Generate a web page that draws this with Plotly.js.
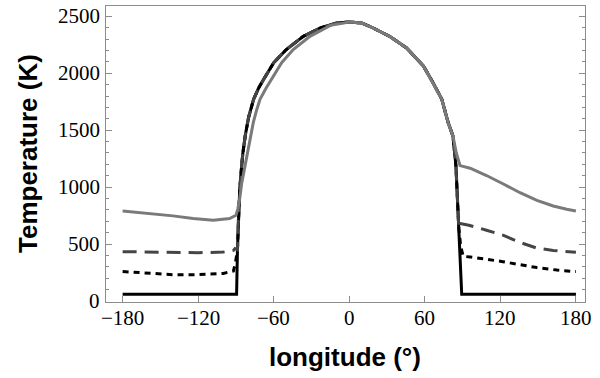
<!DOCTYPE html>
<html>
<head>
<meta charset="utf-8">
<script src="https://cdn.plot.ly/plotly-3.0.1.min.js"></script>
<style>
  html, body { margin: 0; padding: 0; background: #fff; }
  #chart { width: 600px; height: 378px; }
</style>
</head>
<body>
<div id="chart"></div>
<script>
// Longitude (deg) and temperature (K)

// dayside arc shared by the black, dotted and dashed curves
const dayLon = [-88.8, -88, -87, -86, -84.5, -82.5, -80, -76, -72, -68, -60, -50, -36.5, -23, -10, 0, 10, 19, 32, 45.5, 59, 66.5, 73.5, 78.5, 82.3, 84.7, 87];
const dayTemp = [450, 750, 980, 1120, 1300, 1460, 1610, 1771, 1870, 1946, 2092, 2208, 2324, 2397, 2440, 2450, 2440, 2397, 2324, 2222, 2062, 1917, 1771, 1568, 1450, 1189, 640];

// black solid: nightside segments
const nightLonBlackW = [-180, -89.5];
const nightTempBlackW = [60, 60];
const nightLonBlackE = [89.3, 180];
const nightTempBlackE = [60, 60];

// black dotted: nightside segments
const nightLonDotW = [-180, -160, -140, -120, -100, -92, -90.5];
const nightTempDotW = [259, 245, 232, 232, 243, 265, 330];
const nightLonDotE = [88.5, 90.5, 96, 122, 149, 165, 180];
const nightTempDotE = [480, 392, 388, 346, 294, 272, 259];

// dark grey dashed: nightside segments
const nightLonDashW = [-180, -150, -120, -100, -92, -90.8];
const nightTempDashW = [434, 428, 425, 430, 445, 460];
const nightLonDashE = [88, 95, 109, 122, 135.6, 149, 162, 180];
const nightTempDashE = [681, 666, 622, 579, 515, 465, 445, 428];

// grey solid: whole curve
const lonGrey = [-180, -158, -140, -124, -108, -95, -90, -88.5, -87, -85.5, -84, -82, -80.2, -78, -76.2, -73.5, -70.9, -66, -61.6, -53.7, -44.5, -31.2, -15, 0, 10, 19, 32, 45.5, 59, 66.5, 73.5, 78.5, 82.3, 85, 88, 96, 109, 122, 135.6, 149, 162, 172.7, 180];
const tempGrey = [791, 768, 748, 724, 709, 724, 753, 810, 900, 1030, 1120, 1240, 1335, 1460, 1568, 1680, 1771, 1870, 1946, 2092, 2208, 2324, 2420, 2450, 2440, 2397, 2324, 2222, 2062, 1917, 1771, 1568, 1450, 1300, 1189, 1166, 1102, 1030, 951, 884, 835, 806, 791];

// axes
const xTickVals = [-180, -120, -60, 0, 60, 120, 180];
const yTickVals = [0, 500, 1000, 1500, 2000, 2500];
const xGridVals = [-128.7, -73.1, -16.7, 95.3];
const yGridVals = [500, 1000, 1500, 2000];
const xRange = [-193.2, 187.2];
const yRange = [-8, 2590];
const xTitle = 'longitude (°)';
const yTitle = 'Temperature (K)';

function joinCurve(lonW, tW, lonE, tE) {
    return {
        x: lonW.concat(dayLon, lonE),
        y: tW.concat(dayTemp, tE)
    };
}

const black = joinCurve(nightLonBlackW, nightTempBlackW, nightLonBlackE, nightTempBlackE);
const dotted = joinCurve(nightLonDotW, nightTempDotW, nightLonDotE, nightTempDotE);
const dashed = joinCurve(nightLonDashW, nightTempDashW, nightLonDashE, nightTempDashE);

const traces = [
    {
        x: black.x, y: black.y, mode: 'lines',
        line: { color: '#000000', width: 3 }
    },
    {
        x: dotted.x, y: dotted.y, mode: 'lines',
        line: { color: '#000000', width: 3, dash: '6px,5px' }
    },
    {
        x: dashed.x, y: dashed.y, mode: 'lines',
        line: { color: '#454545', width: 3, dash: '14px,8px' }
    },
    {
        x: lonGrey, y: tempGrey, mode: 'lines',
        line: { color: '#7a7a7a', width: 3 }
    }
];

const frameColor = '#8c8c8c';
const serifFont = { family: 'Liberation Serif', size: 21, color: '#000' };
const titleFont = { family: 'Liberation Sans', size: 26, color: '#000', weight: 'bold' };

// tickfont was not taking effect on the axis labels, so the labels are
// written as annotations sitting on the axis values instead
function fmtTick(v) {
    return v < 0 ? '\u2212' + Math.abs(v) : String(v);
}

const xLabels = xTickVals.map(v => ({
    xref: 'x', yref: 'paper', x: v, y: 0,
    xanchor: 'center', yanchor: 'top', yshift: -2,
    text: fmtTick(v), showarrow: false, font: serifFont
}));

const yLabels = yTickVals.map(v => ({
    xref: 'paper', yref: 'y', x: 0, y: v,
    xanchor: 'right', yanchor: 'middle', xshift: -4,
    text: fmtTick(v), showarrow: false, font: serifFont
}));

const titles = [
    {
        xref: 'paper', yref: 'paper', x: 0.5, y: 0,
        xanchor: 'center', yanchor: 'middle', xshift: -1, yshift: -55,
        text: xTitle, showarrow: false, font: titleFont
    },
    {
        xref: 'paper', yref: 'paper', x: 0, y: 0.5,
        xanchor: 'center', yanchor: 'middle', xshift: -78,
        textangle: -90, text: yTitle, showarrow: false, font: titleFont
    }
];

const layout = {
    width: 600,
    height: 378,
    margin: { l: 106, r: 15, t: 6, b: 76 },
    paper_bgcolor: '#fff',
    plot_bgcolor: '#fff',
    showlegend: false,
    annotations: xLabels.concat(yLabels, titles),
    xaxis: {
        range: xRange,
        tickmode: 'array',
        tickvals: xTickVals,
        ticks: 'inside',
        ticklen: 6,
        tickcolor: frameColor,
        showticklabels: false,
        showgrid: false,
        zeroline: false,
        showline: true,
        linecolor: frameColor,
        linewidth: 1,
        mirror: true
    },
    xaxis2: {
        overlaying: 'x',
        anchor: 'y',
        side: 'top',
        range: xRange,
        tickmode: 'array',
        tickvals: xGridVals,
        ticks: 'inside',
        ticklen: 5,
        tickcolor: frameColor,
        showticklabels: false,
        showgrid: true,
        gridcolor: '#e3e3e3',
        gridwidth: 1,
        zeroline: false,
        minor: { tickmode: 'linear', tick0: 0, dtick: 10, ticks: 'inside', ticklen: 3, tickcolor: frameColor }
    },
    yaxis: {
        range: yRange,
        tickmode: 'array',
        tickvals: yTickVals,
        ticks: 'inside',
        ticklen: 6,
        tickcolor: frameColor,
        showticklabels: false,
        showgrid: false,
        zeroline: false,
        showline: true,
        linecolor: frameColor,
        linewidth: 1,
        mirror: 'allticks',
        minor: { tickmode: 'linear', tick0: 0, dtick: 100, ticks: 'inside', ticklen: 3, tickcolor: frameColor }
    },
    yaxis2: {
        overlaying: 'y',
        anchor: 'x',
        range: yRange,
        tickmode: 'array',
        tickvals: yGridVals,
        ticks: '',
        showticklabels: false,
        showgrid: true,
        gridcolor: '#e3e3e3',
        gridwidth: 1,
        zeroline: false
    }
};

Plotly.newPlot('chart', traces, layout, { staticPlot: true });
</script>
</body>
</html>
